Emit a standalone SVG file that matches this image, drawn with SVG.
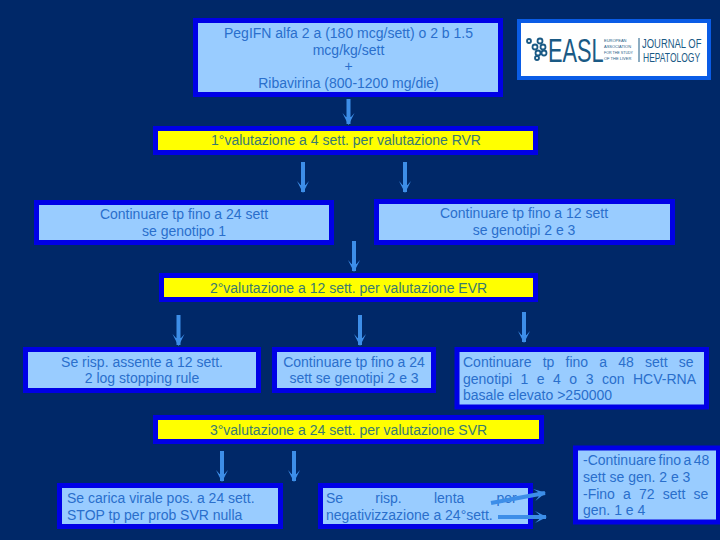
<svg xmlns="http://www.w3.org/2000/svg" width="720" height="540" viewBox="0 0 720 540">
<style>
.b{fill:#99ccff;stroke:#0000e6;stroke-width:5}
.y{fill:#ffff00;stroke:#0000e6;stroke-width:5}
text{font-family:"Liberation Sans",Arial,sans-serif;font-size:14px;fill:#2a6fcc}
.c{text-anchor:middle}
.t{fill:#3a7a70}
.a{stroke:#3d8ee8;stroke-width:4;fill:none;marker-end:url(#h)}
.s{font-size:4px;fill:#1a5a85}
</style>
<defs>
<marker id="h" markerUnits="userSpaceOnUse" markerWidth="13" markerHeight="13" refX="11" refY="6.500" orient="auto"><path d="M0 0.500L4 4V9L0 12.500L12 6.500Z" fill="#3d8ee8"/></marker>
</defs>
<rect width="720" height="540" fill="#002868"/>
<g id="n-start"><rect class="b" x="195.500" y="20.500" width="305" height="74"/>
<text class="c" x="348.500" y="38">PegIFN alfa 2 a (180 mcg/sett) o 2 b 1.5</text>
<text class="c" x="348.500" y="55">mcg/kg/sett</text>
<text class="c" x="348.500" y="71">+</text>
<text class="c" x="348.500" y="88">Ribavirina (800-1200 mg/die)</text></g>
<g id="n-logo"><rect x="519" y="21" width="190" height="57" fill="#fff" stroke="#0a5ce6" stroke-width="4"/>
<g fill="none" stroke="#1a5a85" stroke-width="1.800"><circle cx="529" cy="41" r="2"/><circle cx="540" cy="41" r="2.500"/><circle cx="535" cy="47" r="2.500"/><circle cx="543" cy="47" r="2.500"/><circle cx="538" cy="53" r="2.500"/><circle cx="544" cy="53" r="2.500"/><circle cx="537" cy="58" r="2"/></g>
<text transform="translate(548 62) scale(0.66 1)" style="font-size:33px;fill:#1a5a85">EASL</text>
<text class="s" x="604" y="42">EUROPEAN</text>
<text class="s" x="604" y="48">ASSOCIATION</text>
<text class="s" x="604" y="54" textLength="29" lengthAdjust="spacingAndGlyphs">FOR THE STUDY</text>
<text class="s" x="604" y="60">OF THE LIVER</text>
<path d="M639 38V62" stroke="#1a5a85" stroke-width="1"/>
<text transform="translate(642 48) scale(0.7 1)" style="font-size:13.500px;fill:#1a5a85">JOURNAL OF</text>
<text transform="translate(643 62) scale(0.63 1)" style="font-size:13.500px;fill:#1a5a85">HEPATOLOGY</text></g>
<g id="n-val1"><rect class="y" x="155.500" y="128.500" width="380" height="24"/>
<text class="c t" x="346" y="145">1°valutazione a 4 sett. per valutazione RVR</text></g>
<g id="n-24g1"><rect class="b" x="36.500" y="202.500" width="295" height="40"/>
<text class="c" x="184" y="219">Continuare tp fino a 24 sett</text>
<text class="c" x="184" y="236">se genotipo 1</text></g>
<g id="n-12g23"><rect class="b" x="376.500" y="201.500" width="296" height="41"/>
<text class="c" x="524" y="218">Continuare tp fino a 12 sett</text>
<text class="c" x="524" y="235">se genotipi 2 e 3</text></g>
<g id="n-val2"><rect class="y" x="161.500" y="275.500" width="374" height="24"/>
<text class="c t" x="348.500" y="293">2°valutazione a 12 sett. per valutazione EVR</text></g>
<g id="n-stop12"><rect class="b" x="25.500" y="349.500" width="233" height="41"/>
<text class="c" x="142" y="367">Se risp. assente a 12 sett.</text>
<text class="c" x="142" y="383">2 log stopping rule</text></g>
<g id="n-24g23"><rect class="b" x="274.500" y="349.500" width="159" height="41"/>
<text class="c" x="354" y="367">Continuare tp fino a 24</text>
<text class="c" x="354" y="383">sett se genotipi 2 e 3</text></g>
<g id="n-48"><rect class="b" x="457" y="349.500" width="249.500" height="57.500"/>
<text x="463" y="367" style="word-spacing:7.300px">Continuare tp fino a 48 sett se</text>
<text x="463" y="384" style="word-spacing:4.600px">genotipi 1 e 4 o 3 con HCV-RNA</text>
<text x="463" y="400">basale elevato &gt;250000</text></g>
<g id="n-val3"><rect class="y" x="155.500" y="417.500" width="386" height="24"/>
<text class="c t" x="348.500" y="435">3°valutazione a 24 sett. per valutazione SVR</text></g>
<g id="n-stop24"><rect class="b" x="59.500" y="485.500" width="221" height="41"/>
<text x="67" y="503">Se carica virale pos. a 24 sett.</text>
<text x="67" y="520">STOP tp per prob SVR nulla</text></g>
<g id="n-slow"><rect class="b" x="320.500" y="485.500" width="210" height="41"/>
<text x="326" y="503" style="word-spacing:28.300px">Se risp. lenta per</text>
<text x="326" y="520">negativizzazione a 24°sett.</text></g>
<g id="n-long"><rect class="b" x="575.500" y="448" width="143" height="74"/>
<text x="583" y="465" style="word-spacing:-1.500px">-Continuare fino a 48</text>
<text x="583" y="482">sett se gen. 2 e 3</text>
<text x="583" y="499" style="word-spacing:4.300px">-Fino a 72 sett se</text>
<text x="583" y="515">gen. 1 e 4</text></g>
<g id="connectors">
<path class="a" d="M348.500 99V124"/>
<path class="a" d="M303 162V192"/>
<path class="a" d="M405 162V192"/>
<path class="a" d="M354 241V271"/>
<path class="a" d="M178.500 315V345"/>
<path class="a" d="M360 315V345"/>
<path class="a" d="M524 312V342"/>
<path class="a" d="M222 451V481"/>
<path class="a" d="M294 451V481"/>
<path class="a" d="M491 503L545 493"/>
<path class="a" d="M498 517H546"/>
</g>
</svg>
